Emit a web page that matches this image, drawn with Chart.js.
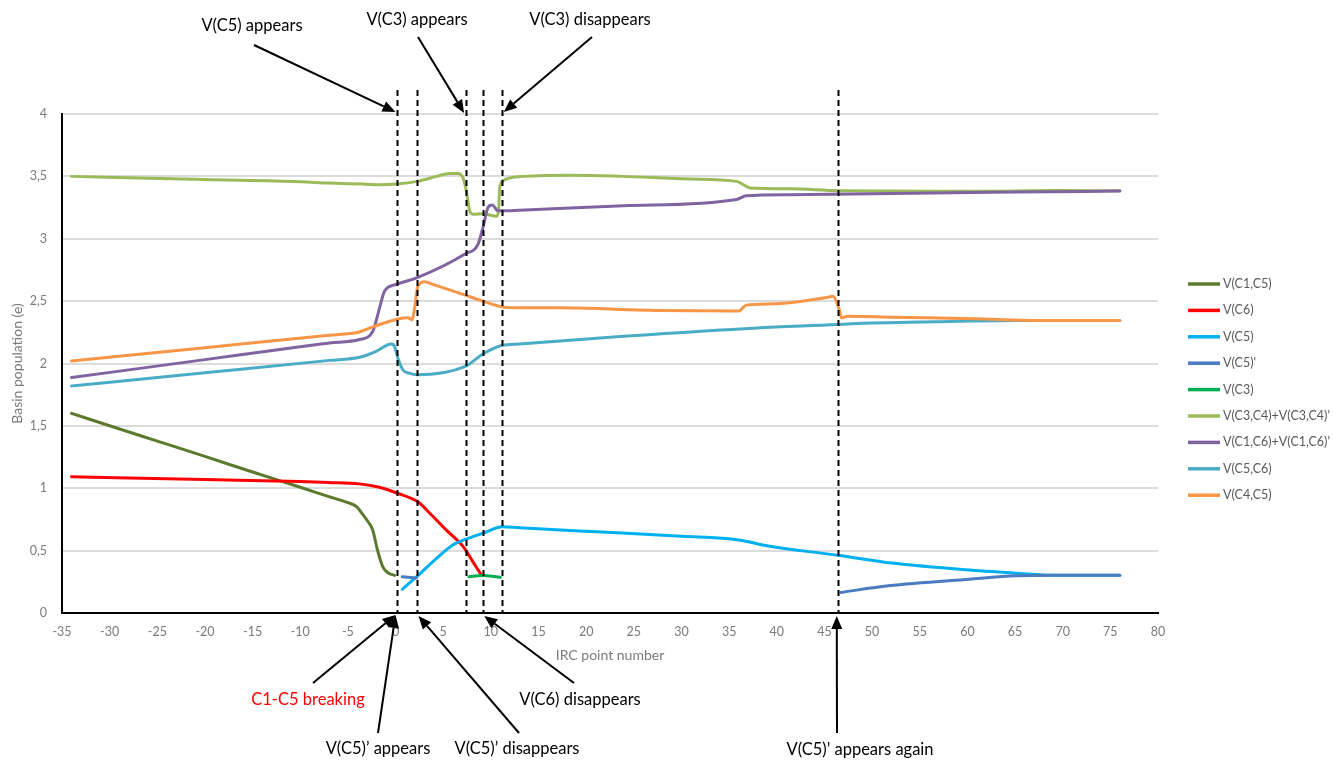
<!DOCTYPE html>
<html>
<head>
<meta charset="utf-8">
<title>Basin populations along the IRC</title>
<script src="https://cdn.jsdelivr.net/npm/chart.js@4/dist/chart.umd.min.js"></script>
<style>
  html, body { margin: 0; padding: 0; background: #ffffff; }
  #wrap { width: 1333px; height: 760px; }
</style>
</head>
<body>
<div id="wrap"><canvas id="chart" width="1333" height="760"></canvas></div>
<script>
// Basin populations (e) along the IRC, as [IRC point number, population] pairs
const vC1C5 = [[-34,1.600],[-30,1.501],[-25,1.378],[-20,1.255],[-15,1.130],[-10,1.008],[-7,0.933],[-5,0.884],[-4.1,0.853],[-3.4,0.786],[-2.9,0.733],[-2.4,0.666],[-1.9,0.505],[-1.35,0.372],[-0.8,0.323],[-0.1,0.302]];
const vC6 = [[-34,1.092],[-20,1.070],[-10,1.055],[-7,1.047],[-3.8,1.035],[-1.7,1.008],[0.2,0.960],[2.3,0.893],[3.6,0.800],[5.3,0.666],[7.1,0.532],[8.1,0.412],[9.0,0.305]];
const vC5 = [[0.7,0.190],[2.3,0.297],[4.3,0.438],[6.0,0.545],[7.3,0.590],[9.2,0.640],[11.2,0.692],[13,0.684],[20,0.655],[30,0.615],[36,0.585],[39.1,0.537],[46.4,0.463],[52.1,0.400],[59.8,0.346],[65.2,0.319],[69.1,0.303],[76,0.303]];
const vC5p = [[0.7,0.290],[2.2,0.281],[30,null],[46.7,0.165],[51.7,0.218],[60.2,0.271],[65.2,0.298],[69.1,0.303],[76,0.303]];
const vC3 = [[7.7,0.290],[9.0,0.300],[11.0,0.286]];
const vC3C4 = [[-34,3.500],[-20,3.474],[-10,3.457],[-7,3.446],[-3.4,3.438],[-1.7,3.433],[0.1,3.438],[2.3,3.460],[4.3,3.500],[5.7,3.524],[6.55,3.524],[7.07,3.490],[7.42,3.385],[7.77,3.224],[8.12,3.197],[9.17,3.200],[9.87,3.190],[10.57,3.180],[10.8,3.220],[10.93,3.410],[11.27,3.465],[12.15,3.490],[13.4,3.500],[18.6,3.510],[23.9,3.500],[30.9,3.479],[35.8,3.460],[36.5,3.433],[37.2,3.406],[41.4,3.400],[46.5,3.385],[52.1,3.383],[60.8,3.380],[69.6,3.387],[76,3.385]];
const vC1C6 = [[-34,1.887],[-20,2.031],[-10,2.134],[-6.93,2.165],[-3.78,2.192],[-2.38,2.259],[-1.68,2.446],[-1.16,2.580],[0.07,2.634],[2.27,2.688],[7.32,2.880],[8.65,2.956],[9.17,3.090],[9.7,3.250],[10.15,3.270],[10.74,3.224],[11.27,3.224],[13,3.229],[23.9,3.264],[35.8,3.315],[36.8,3.344],[41.4,3.353],[47.7,3.358],[52.1,3.363],[65.2,3.374],[76,3.382]];
const vC5C6 = [[-34,1.820],[-20,1.926],[-6.93,2.025],[-3.78,2.050],[-2.03,2.098],[-0.46,2.157],[-0.11,2.138],[0.24,2.044],[0.76,1.950],[1.43,1.923],[2.27,1.910],[7.32,1.977],[9.17,2.076],[11.2,2.146],[13,2.157],[23.9,2.218],[37.9,2.285],[46.3,2.312],[47.8,2.318],[56.5,2.334],[65.2,2.344],[76,2.344]];
const vC4C5 = [[-34,2.020],[-20,2.127],[-6.93,2.227],[-3.78,2.253],[-2.38,2.294],[0.17,2.355],[1.29,2.366],[1.75,2.350],[2.0,2.446],[2.34,2.620],[3.05,2.655],[3.92,2.634],[7.32,2.548],[9.17,2.500],[11.2,2.454],[13,2.446],[16.9,2.446],[27.4,2.425],[36.0,2.420],[36.8,2.468],[39.6,2.478],[45.6,2.535],[45.9,2.540],[46.5,2.446],[46.8,2.366],[47.4,2.379],[52.1,2.371],[60.8,2.358],[67.4,2.344],[76,2.344]];

const seriesNames = ['V(C1,C5)', 'V(C6)', 'V(C5)', "V(C5)'", 'V(C3)', "V(C3,C4)+V(C3,C4)'", "V(C1,C6)+V(C1,C6)'", 'V(C5,C6)', 'V(C4,C5)'];
const seriesData = [vC1C5, vC6, vC5, vC5p, vC3, vC3C4, vC1C6, vC5C6, vC4C5];
const seriesColors = ['#5C7A2E', '#FF0000', '#00B0F0', '#4A7CC2', '#00B050', '#9BBB59', '#8064A2', '#4BACC6', '#F79646'];

// Axis ranges and tick labels
const xRange = [-35, 80], xStep = 5;
const yRange = [0, 4], yStep = 0.5;
const yTickLabels = ['0', '0,5', '1', '1,5', '2', '2,5', '3', '3,5', '4'];

// IRC points where basins appear or vanish
const eventIrc = [0.15, 2.25, 7.35, 9.15, 11.2, 46.45];
const callouts = [
  { text: 'V(C5) appears',            event: 0 },
  { text: 'V(C3) appears',            event: 2 },
  { text: 'V(C3) disappears',         event: 4 },
  { text: 'C1-C5 breaking',           event: 0, red: true },
  { text: 'V(C5)\u2019 appears',       event: 0 },
  { text: 'V(C5)\u2019 disappears',    event: 1 },
  { text: 'V(C6) disappears',         event: 3 },
  { text: 'V(C5)\u2019 appears again', event: 5 }
];

// Page placement of the callout labels and arrow tails (canvas pixels)
const calloutLayout = [
  { tx: 252, ty: 26,  tail: [254, 45],  tipY: 112 },
  { tx: 417, ty: 20,  tail: [418, 37],  tipY: 113 },
  { tx: 590, ty: 20,  tail: [592, 37],  tipY: 112 },
  { tx: 308, ty: 700, tail: [313, 683], tipY: 615 },
  { tx: 378, ty: 749, tail: [378, 733], tipY: 615 },
  { tx: 517, ty: 749, tail: [519, 733], tipY: 616 },
  { tx: 580, ty: 700, tail: [574, 683], tipY: 616 },
  { tx: 860, ty: 750, tail: [837, 733], tipY: 616 }
];
const legendLayout = { x0: 1188, x1: 1220, textX: 1223, y0: 284, dy: 26.4 };

const FONT = 'Lato, "Open Sans", sans-serif';
Chart.defaults.font.family = FONT;

function drawArrow(ctx, x0, y0, x1, y1) {
  const ang = Math.atan2(y1 - y0, x1 - x0);
  const len = 13, half = 5.5;
  const bx = x1 - len * Math.cos(ang), by = y1 - len * Math.sin(ang);
  ctx.beginPath();
  ctx.moveTo(x0, y0);
  ctx.lineTo(bx, by);
  ctx.stroke();
  ctx.beginPath();
  ctx.moveTo(x1, y1);
  ctx.lineTo(bx + half * Math.sin(ang), by - half * Math.cos(ang));
  ctx.lineTo(bx - half * Math.sin(ang), by + half * Math.cos(ang));
  ctx.closePath();
  ctx.fill();
}

// Event markers, callouts and the legend
const annotationPlugin = {
  id: 'ircAnnotations',
  afterDraw(chart) {
    const ctx = chart.ctx;
    const xs = chart.scales.x, ys = chart.scales.y;
    const yBase = ys.getPixelForValue(0);
    ctx.save();
    // dashed event lines
    ctx.strokeStyle = '#000';
    ctx.lineWidth = 2;
    ctx.setLineDash([6, 4]);
    eventIrc.forEach(v => {
      const x = Math.round(xs.getPixelForValue(v)) + 0.5;
      ctx.beginPath();
      ctx.moveTo(x, 90);
      ctx.lineTo(x, yBase);
      ctx.stroke();
    });
    ctx.setLineDash([]);
    // arrows and labels
    ctx.lineWidth = 2;
    ctx.font = '16.5px ' + FONT;
    ctx.textAlign = 'center';
    ctx.textBaseline = 'middle';
    callouts.forEach((c, i) => {
      const L = calloutLayout[i];
      const lx = xs.getPixelForValue(eventIrc[c.event]);
      const dir = Math.sign(L.tail[0] - lx);
      const tipX = lx + dir * 1.5;
      ctx.strokeStyle = '#000';
      ctx.fillStyle = '#000';
      drawArrow(ctx, L.tail[0], L.tail[1], tipX, L.tipY);
      ctx.fillStyle = c.red ? '#FF0000' : '#000';
      ctx.fillText(c.text, L.tx, L.ty);
    });
    // legend
    ctx.textAlign = 'left';
    ctx.font = '12.5px ' + FONT;
    chart.data.datasets.forEach((ds, i) => {
      const y = legendLayout.y0 + i * legendLayout.dy;
      ctx.strokeStyle = ds.borderColor;
      ctx.lineWidth = 3.5;
      ctx.beginPath();
      ctx.moveTo(legendLayout.x0, y);
      ctx.lineTo(legendLayout.x1, y);
      ctx.stroke();
      ctx.fillStyle = '#595959';
      ctx.fillText(ds.label, legendLayout.textX, y);
    });
    ctx.restore();
  }
};

const datasets = seriesNames.map((name, i) => ({
  label: name,
  data: seriesData[i].map(([x, y]) => ({ x, y })),
  borderColor: seriesColors[i],
  backgroundColor: seriesColors[i],
  borderWidth: 3,
  pointRadius: 0,
  pointHoverRadius: 0,
  cubicInterpolationMode: 'monotone',
  borderCapStyle: 'round',
  borderJoinStyle: 'round',
  spanGaps: false,
  fill: false,
  order: seriesNames.length - i
}));

new Chart(document.getElementById('chart'), {
  type: 'line',
  data: { datasets },
  options: {
    responsive: false,
    animation: false,
    events: [],
    layout: { padding: { left: 0, right: 175, top: 114, bottom: 0 } },
    plugins: { legend: { display: false }, tooltip: { enabled: false } },
    scales: {
      x: {
        type: 'linear',
        min: xRange[0], max: xRange[1],
        ticks: { stepSize: xStep, color: '#7a7a7a', font: { size: 12.5 }, padding: 11, maxRotation: 0, autoSkip: false },
        grid: { display: false, drawTicks: false },
        border: { display: true, color: '#000', width: 2 },
        title: { display: true, text: 'IRC point number', color: '#7a7a7a', font: { size: 14 }, padding: { top: 0, bottom: 96 } },
        afterFit: s => { s.height = 147; }
      },
      y: {
        type: 'linear',
        min: yRange[0], max: yRange[1],
        ticks: {
          stepSize: yStep, color: '#7a7a7a', font: { size: 12.5 }, padding: 15,
          callback: v => yTickLabels[Math.round(v / yStep)]
        },
        grid: {
          drawTicks: false, lineWidth: 2,
          color: c => (c.tick && c.tick.value === 0) ? 'rgba(0,0,0,0)' : '#dcdcdc'
        },
        border: { display: true, color: '#000', width: 2 },
        title: { display: true, text: 'Basin population (e)', color: '#7a7a7a', font: { size: 14 }, padding: { top: 9, bottom: 0 } },
        afterFit: s => { s.width = 62; }
      }
    }
  },
  plugins: [annotationPlugin]
});
</script>
</body>
</html>
